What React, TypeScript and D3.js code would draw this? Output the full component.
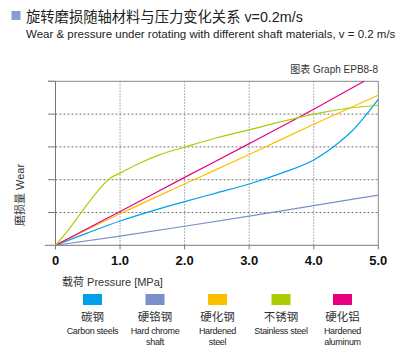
import React from "react";
import * as d3 from "d3";

const xTicks = [0, 1, 2, 3, 4, 5];
const xTickLabels = ["0", "1.0", "2.0", "3.0", "4.0", "5.0"];
const yGrid = [1, 2, 3, 4];

const carbonX = [0, 0.5, 1, 1.5, 2, 2.5, 3, 3.5, 4, 4.2, 4.4, 4.6, 4.8, 5];
const carbonY = [0, 0.38, 0.74, 1.05, 1.33, 1.6, 1.87, 2.2, 2.6, 2.85, 3.15, 3.5, 3.95, 4.45];
const chromeX = [0, 1, 2, 3, 4, 5];
const chromeY = [0, 0.28, 0.58, 0.89, 1.21, 1.53];
const hardSteelX = [0, 1, 2, 3, 4, 5];
const hardSteelY = [0, 0.96, 1.87, 2.77, 3.69, 4.58];
const stainlessX = [0, 0.2, 0.4, 0.6, 0.85, 1.0, 1.3, 1.6, 2.0, 2.5, 3.0, 3.5, 4.0, 4.5, 5.0];
const stainlessY = [0, 0.47, 1.0, 1.52, 2.05, 2.2, 2.5, 2.75, 2.99, 3.28, 3.52, 3.77, 4.0, 4.17, 4.27];
const aluX = [0, 1, 2, 3, 4, 4.78];
const aluY = [0, 1.03, 2.07, 3.1, 4.15, 5.0];

const seriesNamesCn = ["碳钢", "硬铬钢", "硬化钢", "不锈钢", "硬化铝"];
const seriesNamesEn = [["Carbon steels"], ["Hard chrome", "shaft"], ["Hardened", "steel"], ["Stainless steel"], ["Hardened", "aluminum"]];
const seriesColors = ["#00a0e9", "#7b8fcb", "#fcc000", "#aacd06", "#e6007e"];

const FONT = "'Liberation Sans', Arial, 'Noto Sans CJK SC', sans-serif";

export default function App() {
  const x = d3.scaleLinear().domain([0, 5]).range([55.5, 378.3]);
  const y = d3.scaleLinear().domain([0, 5]).range([245.3, 81.3]);
  const line = d3
    .line<[number, number]>()
    .x((d) => x(d[0]))
    .y((d) => y(d[1]))
    .curve(d3.curveMonotoneX);

  const series = [
    { xs: carbonX, ys: carbonY },
    { xs: chromeX, ys: chromeY },
    { xs: hardSteelX, ys: hardSteelY },
    { xs: stainlessX, ys: stainlessY },
    { xs: aluX, ys: aluY },
  ];
  const drawOrder = [1, 0, 2, 4, 3];
  const legendCenters = [92.5, 155, 217.5, 281, 342.5];

  return (
    <svg width={400} height={360} style={{ position: "absolute", left: 0, top: 0, background: "#fff" }} fontFamily={FONT}>
      <rect x={11.5} y={11} width={9} height={9} fill="#8a9bd1" />
      <text x={26} y={22} fontSize={14.3} fill="#222">旋转磨损随轴材料与压力变化关系 v=0.2m/s</text>
      <text x={26} y={38} fontSize={11.5} fill="#222">Wear &amp; pressure under rotating with different shaft materials, v = 0.2 m/s</text>
      <text x={378} y={73} fontSize={10} fill="#333" textAnchor="end">图表 Graph EPB8-8</text>

      {/* grid */}
      {xTicks.slice(1, 5).map((t) => (
        <line key={"gx" + t} x1={x(t)} x2={x(t)} y1={y(5)} y2={y(0)} stroke="#999" strokeDasharray="1.5,1.5" />
      ))}
      {yGrid.map((t) => (
        <line key={"gy" + t} x1={x(0)} x2={x(5)} y1={y(t)} y2={y(t)} stroke="#777" strokeDasharray="2,2" />
      ))}
      {[1, 2, 3, 4, 5].map((t) => (
        <line key={"ty" + t} x1={48} x2={x(0)} y1={y(t)} y2={y(t)} stroke="#777" />
      ))}
      {/* frame */}
      <line x1={48} x2={x(5)} y1={y(5)} y2={y(5)} stroke="#888" />
      <line x1={x(5)} x2={x(5)} y1={y(5)} y2={y(0)} stroke="#888" />
      <line x1={x(0)} x2={x(0)} y1={y(5)} y2={y(0) + 4} stroke="#777" />
      <line x1={45} x2={x(5)} y1={y(0)} y2={y(0)} stroke="#777" />
      {xTicks.map((t) => (
        <line key={"tx" + t} x1={x(t)} x2={x(t)} y1={y(0)} y2={y(0) + 4} stroke="#777" />
      ))}

      {/* series */}
      {drawOrder.map((i) => {
        const s = series[i];
        const pts = s.xs.map((v, k) => [v, s.ys[k]] as [number, number]);
        return <path key={"s" + i} d={line(pts) || ""} fill="none" stroke={seriesColors[i]} strokeWidth={1.2} />;
      })}

      {xTicks.map((t, i) => (
        <text key={"xl" + t} x={x(t)} y={265} fontSize={13} fontWeight="bold" textAnchor="middle" fill="#111">
          {xTickLabels[i]}
        </text>
      ))}
      <text x={62} y={286} fontSize={11} fill="#333">载荷 Pressure  [MPa]</text>
      <text transform="translate(24,195) rotate(-90)" fontSize={11} fill="#333" textAnchor="middle">磨损量 Wear</text>

      {/* legend */}
      {legendCenters.map((cx, i) => (
        <g key={"lg" + i}>
          <rect x={cx - 9.5} y={294} width={19} height={11} fill={seriesColors[i]} />
          <text x={cx} y={321} fontSize={11.5} textAnchor="middle" fill="#333">{seriesNamesCn[i]}</text>
          {seriesNamesEn[i].map((l, k) => (
            <text key={k} x={cx} y={333.5 + k * 11.5} fontSize={9} letterSpacing={-0.3} textAnchor="middle" fill="#222">{l}</text>
          ))}
        </g>
      ))}
    </svg>
  );
}
